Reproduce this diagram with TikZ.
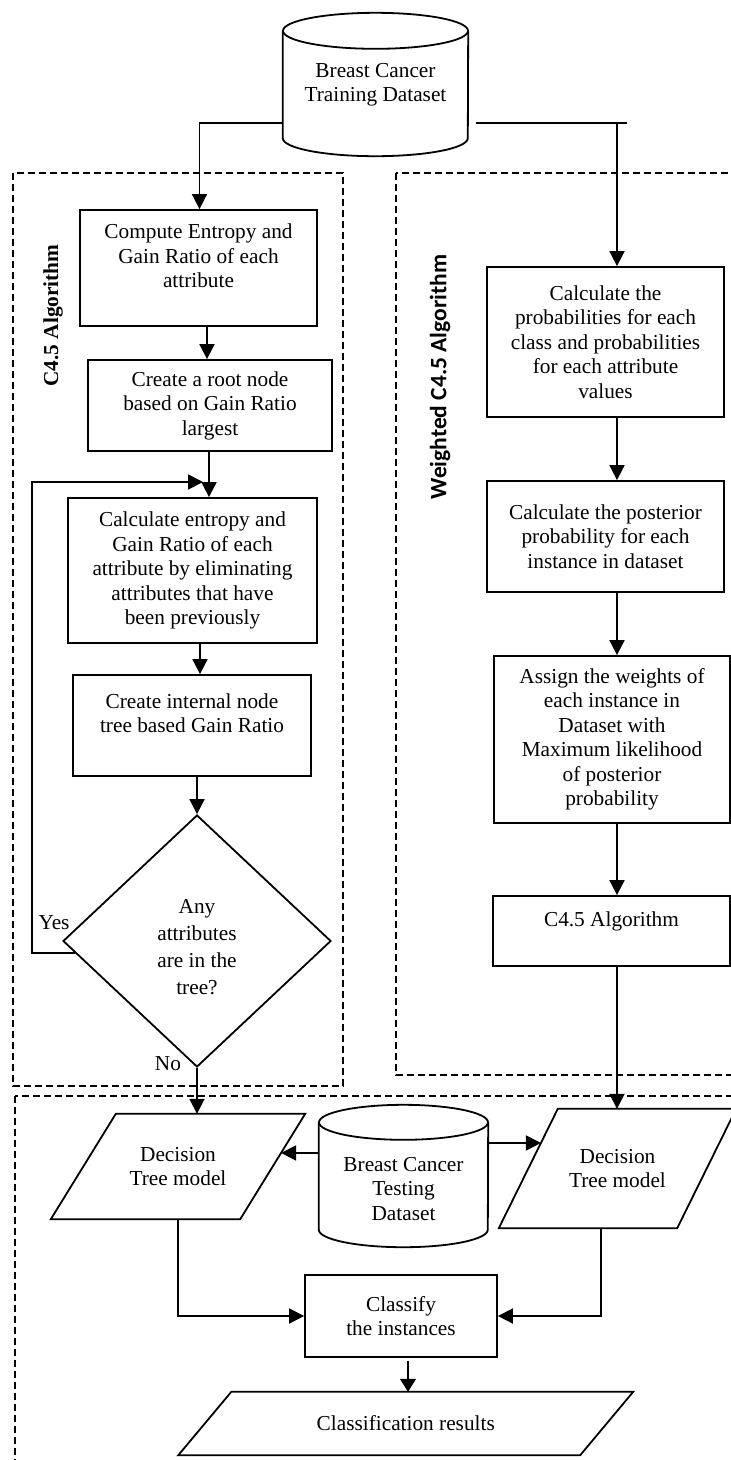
\documentclass[tikz,border=0pt]{standalone}
\usepackage{fontspec}
\setmainfont{Liberation Serif}
\newfontfamily\titlesans{Carlito}
\usetikzlibrary{arrows.meta,shapes.geometric,calc}

\newcommand\bodyfont{\fontsize{21.3pt}{24.5pt}\selectfont}

\tikzset{
  line/.style={line width=1.8pt},
  stepbox/.style={draw, rectangle, line width=1.8pt, align=center, inner sep=0pt, font=\bodyfont},
  txt/.style={align=center, inner sep=0pt, font=\bodyfont},
  arr/.style={line width=1.8pt, -{Triangle[length=15pt,width=15pt]}},
  smallarr/.style={line width=1.3pt, -{Triangle[length=13pt,width=16pt]}},
  frame/.style={line width=1.3pt, dash pattern=on 7pt off 4pt},
}

% cylinder outline around a named node: node, x radius, y radius
\newcommand\drawcylinder[3]{%
  \draw[line] ([yshift=-#3]#1.north west) -- ([yshift=#3]#1.south west)
    arc[start angle=180, end angle=360, x radius=#2, y radius=#3]
    -- ([yshift=-#3]#1.north east);
  \draw[line] ([yshift=-#3]#1.north) ellipse[x radius=#2, y radius=#3];
}
% parallelogram outline inside a named node: node, horizontal slant
\newcommand\drawpara[2]{%
  \draw[line] ([xshift=#2]#1.north west) -- (#1.north east)
    -- ([xshift=-#2]#1.south east) -- (#1.south west) -- cycle;
}

\begin{document}
\begin{tikzpicture}[x=1pt, y=-1pt]
\useasboundingbox (0,0) rectangle (731,1460);

% dashed group frames
\draw[frame] (13,173) rectangle (343,1086);
\draw[frame] (396,173) rectangle (760,1075);
\draw[frame] (15,1096) rectangle (760,1480);

% group titles
\node[rotate=90, font=\bodyfont\bfseries] (c45title) at (53,315.5) {C4.5 Algorithm};
\node[rotate=90, font={\titlesans\bfseries\fontsize{23.5pt}{27pt}\selectfont}] (wtitle) at (440,377) {Weighted C4.5 Algorithm};

% training data
\node[txt, minimum width=185pt, minimum height=143pt] (train) at (375.5,84.5) {Breast Cancer\\Training Dataset};
\drawcylinder{train}{92.5pt}{18pt}

% C4.5 branch
\node[stepbox, minimum width=237pt, minimum height=116pt] (b1) at (198.5,268) {Compute Entropy and\\Gain Ratio of each\\attribute\\\mbox{}};
\node[stepbox, minimum width=244pt, minimum height=91pt] (b2) at (210,405.5) {Create a root node\\based on Gain Ratio\\largest};
\node[stepbox, minimum width=249pt, minimum height=145pt] (b3) at (192.5,570.5) {Calculate entropy and\\Gain Ratio of each\\attribute by eliminating\\attributes that have\\been previously};
\node[stepbox, minimum width=238pt, minimum height=101pt] (b4) at (192,725.5) {Create internal node\\tree based Gain Ratio\\\mbox{}};
\node[draw, diamond, line width=1.8pt, minimum width=268pt, minimum height=252pt, inner sep=0pt] (dia) at (197,941) {};
\node[txt, font=\fontsize{21.3pt}{27pt}\selectfont] (diatext) at (197,947) {Any\\attributes\\are in the\\tree?};
\node[txt] (yes) at (54,923) {Yes};
\node[txt] (no) at (168,1064) {No};

% weighted branch
\node[stepbox, minimum width=237pt, minimum height=150pt] (r1) at (605.5,342) {Calculate the\\probabilities for each\\class and probabilities\\for each attribute\\values};
\node[stepbox, minimum width=237pt, minimum height=111pt] (r2) at (605.5,536.5) {Calculate the posterior\\probability for each\\instance in dataset};
\node[stepbox, minimum width=236pt, minimum height=167pt] (r3) at (612,739.5) {Assign the weights of\\each instance in\\Dataset with\\Maximum likelihood\\of posterior\\probability};
\node[stepbox, minimum width=237pt, minimum height=70pt] (c45) at (611.5,931) {C4.5 Algorithm\\\mbox{}};

% evaluation
\node[txt, minimum width=254pt, minimum height=105pt] (ldt) at (178,1166.5) {Decision\\Tree model};
\drawpara{ldt}{65pt}
\node[txt, minimum width=237pt, minimum height=119pt] (rdt) at (617.5,1168.5) {Decision\\Tree model};
\drawpara{rdt}{59pt}
\node[txt, minimum width=169pt, minimum height=142pt] (test) at (403.5,1176) {};
\drawcylinder{test}{84.5pt}{17.5pt}
\node[txt] (testlabel) at (403.5,1189) {Breast Cancer\\Testing\\Dataset};
\node[stepbox, minimum width=192pt, minimum height=82pt] (cls) at (401,1316) {Classify\\the instances};
\node[txt, minimum width=454.5pt, minimum height=63pt] (res) at (405.75,1423.5) {Classification results};
\drawpara{res}{53pt}

% connectors
\coordinate (rcol) at (617,123);
\coordinate (loopx) at (32,482);
\draw[arr] ([yshift=-38.5pt]train.west) -| ([xshift=1pt]b1.north);
\draw[line] ([xshift=8pt,yshift=-38.5pt]train.east) -- ([xshift=10pt]rcol);
\draw[arr] (rcol) -- (rcol |- r1.north);
\draw[arr] (rcol |- r1.south) -- (rcol |- r2.north);
\draw[arr] (rcol |- r2.south) -- (rcol |- r3.north);
\draw[arr] (rcol |- r3.south) -- (rcol |- c45.north);
\draw[arr] (rcol |- c45.south) -- (rcol |- rdt.north);

\draw[arr] ([xshift=8.5pt]b1.south) -- ([xshift=8.5pt]b1.south |- b2.north);
\draw[arr] ([xshift=-1pt]b2.south) -- ([xshift=-1pt]b2.south |- b3.north);
\draw[arr] ([xshift=7.5pt]b3.south) -- ([xshift=7.5pt]b3.south |- b4.north);
\draw[arr] (dia.north |- b4.south) -- (dia.north);
\draw[arr] ($(dia.west)!0.095!(dia.south)$) -| (loopx) -- ([xshift=-7pt]loopx -| b2.south);
\draw[arr] (dia.south) -- (dia.south |- ldt.north);

\draw[arr] ([yshift=23pt]test.west) -- ($(ldt.north east)!0.371!([xshift=-65pt]ldt.south east)$);
\draw[arr] ([yshift=33pt]test.east) -- ($([xshift=59pt]rdt.north west)!0.286!(rdt.south west)$);
\draw[arr] (ldt.south) |- (cls.west);
\draw[arr] ([xshift=-16.5pt]rdt.south) |- (cls.east);
\draw[smallarr] ([xshift=7pt,yshift=-3pt]cls.south) -- ([xshift=7pt]cls.south |- res.north);
\end{tikzpicture}
\end{document}
